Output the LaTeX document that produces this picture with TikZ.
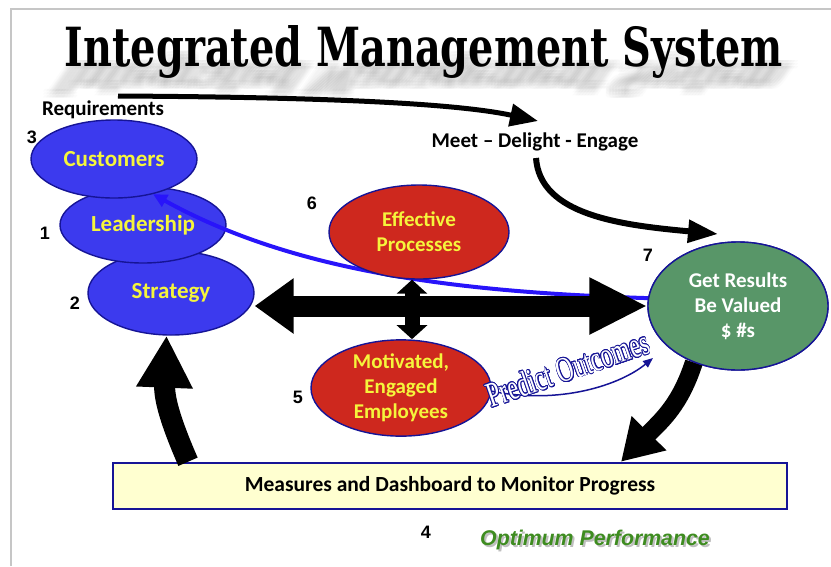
\documentclass[tikz,border=0pt]{standalone}
\usepackage{fontspec}
\setmainfont{Carlito}
\newfontfamily\arialfont{Liberation Sans}
\newfontfamily\timesfont{Liberation Serif}
\newfontfamily\slabfont{DejaVu Serif}
\usepackage{xcolor}
\usepackage{graphicx}
\usepackage{contour}
\contourlength{0.9pt}
\usetikzlibrary{shapes.geometric, arrows.meta, positioning, calc}

\definecolor{ellblue}{RGB}{60,58,238}
\definecolor{ellred}{RGB}{206,40,30}
\definecolor{ellgreen}{RGB}{88,150,104}
\definecolor{rimnavy}{RGB}{22,20,150}
\definecolor{textyellow}{RGB}{245,245,60}
\definecolor{dashfill}{RGB}{255,255,208}
\definecolor{perfgreen}{RGB}{62,140,32}
\definecolor{curveblue}{RGB}{40,20,250}

\newcommand{\titletext}{\resizebox{718pt}{41pt}{\slabfont\bfseries Integrated Management System}}

\tikzset{
    stage/.style={ellipse, draw=rimnavy, line width=1.4pt, inner sep=0pt, align=center,
        text=textyellow, font=\fontsize{23}{25}\selectfont\bfseries},
    core/.style={stage, font=\fontsize{21}{25}\selectfont\bfseries},
    numlabel/.style={font=\arialfont\fontsize{18}{18}\selectfont\bfseries},
    plainlabel/.style={font=\fontsize{21}{24}\selectfont\bfseries},
    bigarrow/.style={line width=21pt, black},
    flowarrow/.style={line width=5pt, -{Triangle[width=22pt,length=28pt]}},
}

\begin{document}
\begin{tikzpicture}[x=1pt, y=-1pt]
    \useasboundingbox (0,0) rectangle (831,566);

    % Frame
    \draw[gray!45, line width=1.2pt] (11,566) -- (11,9) -- (831,9);

    % Title, with a blurred cast shadow falling below it
    \foreach \dx in {-9,-6,-3,0,3,6,9} {
        \foreach \dy in {-2,1,4} {
            \node[anchor=base, text=gray, opacity=0.035, xslant=0.7, yscale=-0.8] at (432+\dx,62+\dy) {\titletext};
        }
    }
    \node[anchor=base] (title) at (424,66) {\titletext};

    % Left stack: Strategy under Leadership under Customers
    \node[stage, fill=ellblue, minimum width=166pt, minimum height=84pt] (strategy) at (171,293) {Strategy};
    \node[stage, fill=ellblue, minimum width=166pt, minimum height=76pt] (leadership) at (143,225) {Leadership};
    \node[stage, fill=ellblue, minimum width=166pt, minimum height=78pt] (customers) at (114,159) {Customers};

    % Text labels
    \node[plainlabel] (requirements) at (103,110) {Requirements};
    \node[plainlabel] (meet) at (535,142) {Meet -- Delight - Engage};

    \coordinate (reqstart) at (118,96);
    \coordinate (meetin) at (538,121);
    \coordinate (meetout) at (536,158);
    \coordinate (resultsin) at (718,234);

    % Requirements -> Meet -> Results
    \draw[flowarrow] (reqstart) .. controls (300,97) and (450,102) .. (meetin);
    \draw[flowarrow, line width=6pt, -{Triangle[width=22pt,length=30pt]}]
        (meetout) .. controls (540,215) and (620,225) .. (resultsin);

    % Results ellipse placed first for anchors
    \path (738,306) node[stage, minimum width=180pt, minimum height=128pt] (results) {};

    % Feedback curve to Customers
    \draw[curveblue, line width=4pt, -{Triangle[width=13pt,length=14pt]}]
        (results.175) .. controls (450,292) and (290,270) .. (customers.-42);

    % Heavy arrows
    \draw[bigarrow, {Triangle[width=53pt,length=39pt]}-{Triangle[width=53pt,length=58pt]}]
        (strategy.east |- results.west) -- (results.west);

    \coordinate (vmid) at (412,0);
    \node[core, fill=ellred, minimum width=180pt, minimum height=94pt] (processes) at (419,232) {Effective\\Processes};
    \node[core, fill=ellred, minimum width=180pt, minimum height=92pt] (employees) at (401,388) {Motivated,\\Engaged\\Employees};
    \draw[line width=15pt, {Triangle[width=30pt,length=14pt]}-{Triangle[width=30pt,length=14pt]}]
        (processes.south -| vmid) -- (employees.north -| vmid);

    % Dashboard bar
    \node[draw=rimnavy, line width=2.5pt, fill=dashfill, minimum width=674pt, minimum height=46pt,
        font=\fontsize{21.5}{24}\selectfont\bfseries] (dashboard) at (450,486)
        {Measures and Dashboard to Monitor Progress};

    \coordinate (lbase) at (188,0);
    \coordinate (rtip) at (621,0);
    \draw[bigarrow, -{Triangle[width=53pt,length=52pt]}]
        (dashboard.north -| lbase) .. controls (172,425) and (164,400) .. (strategy.-96);
    \draw[bigarrow, line width=18pt, -{Triangle[width=46pt,length=40pt]}]
        (results.-128) .. controls (680,405) and (662,420) .. (dashboard.north -| rtip);

    \node[core, fill=ellgreen, text=white, minimum width=180pt, minimum height=128pt] at (results)
        {Get Results\\Be Valued\\\$ \#s};

    % Predict Outcomes
    \draw[rimnavy, line width=1.5pt, -{Triangle[width=8pt,length=10pt]}]
        (employees.-2) .. controls (560,405) and (620,385) .. (653,358);
    \node[rotate=19, xscale=0.68, text=white, font=\timesfont\fontsize{35}{35}\selectfont] (predict)
        at (568,369) {\contour{rimnavy}{Predict Outcomes}};

    % Step numbers
    \node[numlabel] (n3) at (32,137) {3};
    \node[numlabel] (n1) at (45,233) {1};
    \node[numlabel] (n2) at (75,303) {2};
    \node[numlabel] (n6) at (312,203) {6};
    \node[numlabel] (n7) at (648,255) {7};
    \node[numlabel] (n5) at (298,397) {5};
    \node[numlabel] (n4) at (426,532) {4};

    % Optimum Performance
    \node[text=gray!50, font=\arialfont\fontsize{21.3}{24}\selectfont\bfseries\itshape] at (597,542) {Optimum Performance};
    \node[text=perfgreen, font=\arialfont\fontsize{21.3}{24}\selectfont\bfseries\itshape] (optimum) at (595,540) {Optimum Performance};
\end{tikzpicture}
\end{document}
